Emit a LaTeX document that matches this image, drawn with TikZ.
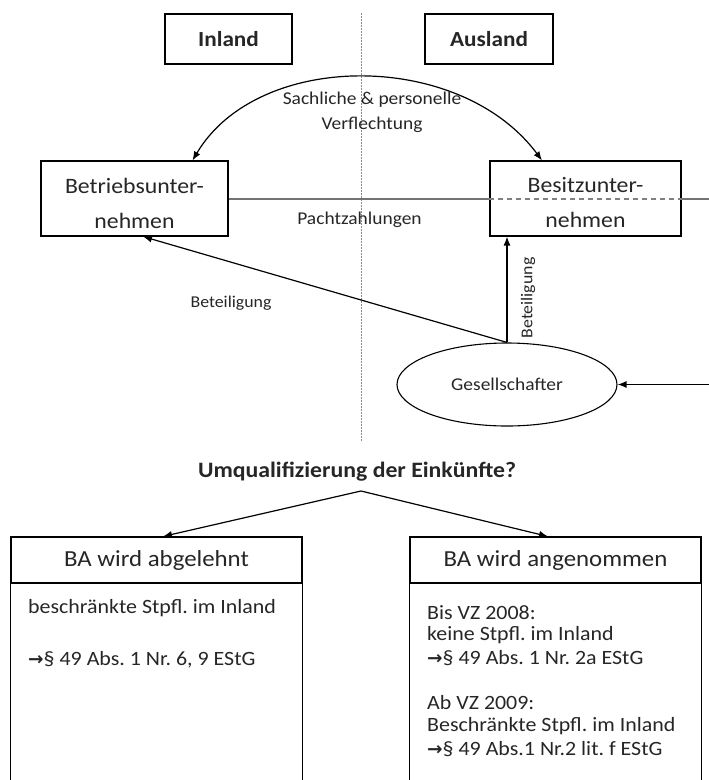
\documentclass[tikz,border=0pt]{standalone}
\usepackage{fontspec}
\setmainfont[FakeStretch=1.08]{Carlito}
\newfontfamily\symfont{DejaVu Sans}
\usetikzlibrary{arrows.meta,shapes.geometric}
\frenchspacing
\begin{document}
\frenchspacing
\begin{tikzpicture}[x=1pt,y=-1pt,
  txt/.style={text=black!85, inner sep=0pt},
  boxnode/.style={draw=black, line width=1.1pt, inner sep=0pt, text=black!85},
  boxline/.style={draw=black, line width=1.1pt},
  arr/.style={draw=black, line width=1.2pt, -{Latex[length=9pt,width=7pt]}},
  midl/.style={draw=black!55, line width=2pt},
  fbig/.style={font=\fontsize{22}{35}\selectfont},
  fbody/.style={font=\fontsize{20.3}{20.3}\selectfont},
  fbox/.style={font=\fontsize{23}{23}\selectfont},
  fsmall/.style={font=\fontsize{18}{25}\selectfont},
  ftiny/.style={font=\fontsize{16.5}{16.5}\selectfont},
  fhead/.style={font=\fontsize{21.5}{21.5}\selectfont\bfseries}]
\newcommand{\rarr}{{\symfont\bfseries\fontsize{18.5}{18.5}\selectfont →}}
\useasboundingbox (0,0) rectangle (709,780);
\clip (0,0) rectangle (709,780);

% divider
\coordinate (divtop) at (361,13);
\coordinate (divbot) at (361,442);
\draw[black!45, line width=0.8pt, dash pattern=on 1.5pt off 1.5pt] (divtop) -- (divbot);

% header boxes
\node[boxnode, fhead, minimum width=127pt, minimum height=50pt] (inland) at (228.5,39) {Inland};
\node[boxnode, fhead, minimum width=128pt, minimum height=50pt] (ausland) at (489,39) {Ausland};

% companies
\node[boxnode, minimum width=187pt, minimum height=75pt] (betrieb) at (134.5,198.5) {};
\node[txt, fbig, align=center] (betriebt) at (134.5,203) {Betriebsunter-\\nehmen};
\node[boxnode, minimum width=191pt, minimum height=75pt] (besitz) at (585.5,198.5) {};
\node[txt, fbig, align=center] (besitzt) at (585.5,203) {Besitzunter-\\nehmen};

% Pachtzahlungen line
\coordinate (rend) at (709,198.5);
\draw[midl] (betrieb.east) -- (besitz.west);
\draw[midl, draw=black!50, dash pattern=on 5pt off 4pt] (besitz.west) -- (besitz.east);
\draw[midl] (besitz.east) -- (rend);
\node[txt, fsmall] (pacht) at (359.5,220) {Pachtzahlungen};

% Verflechtung arc
\coordinate (arcL) at ([xshift=58pt]betrieb.north);
\coordinate (arcR) at ([xshift=-43.5pt]besitz.north);
\draw[arr, {Latex[length=9pt,width=7pt]}-{Latex[length=9pt,width=7pt]}] (arcL) .. controls (258,50) and (460,50) .. (arcR);
\node[txt, fsmall, align=center] (verfl) at (372,112) {Sachliche \& personelle\\Verflechtung};

% Gesellschafter
\node[draw=black, line width=1.1pt, ellipse, minimum width=220pt, minimum height=83pt, inner sep=0pt, text=black!85, fsmall] (gesell) at (507,384.5) {Gesellschafter};
\draw[arr] (gesell.north) -- ([xshift=8.5pt]betrieb.south);
\draw[arr] (gesell.north) -- (gesell.north |- besitz.south);
\coordinate (ext) at (709,0);
\draw[arr] (gesell.east -| ext) -- (gesell.east);
\node[txt, ftiny] (bet1) at (231,303) {Beteiligung};
\node[txt, ftiny, rotate=90] (bet2) at (528,298) {Beteiligung};

% question
\node[txt, font=\fontsize{22}{22}\selectfont\bfseries] (umq) at (357,472) {Umqualifizierung der Einkünfte?};
\coordinate (apex) at (361,491);

% result boxes
\node[boxnode, fbox, minimum width=291pt, minimum height=46pt] (abl) at (156.5,560) {BA wird abgelehnt};
\node[boxnode, fbox, minimum width=291pt, minimum height=46pt] (ann) at (555.5,560) {BA wird angenommen};
\draw[arr] (apex) -- ([xshift=6.5pt]abl.north);
\draw[arr] (apex) -- ([xshift=-7.5pt]ann.north);
\draw[boxline] (abl.south west) -- ++(0,220);
\draw[boxline] (abl.south east) -- ++(0,220);
\draw[boxline] (ann.south west) -- ++(0,220);
\draw[boxline] (ann.south east) -- ++(0,220);

% left body
\node[txt, fbody, anchor=west] (l1) at (28,608) {beschränkte Stpfl. im Inland};
\node[txt, fbody, anchor=west] (l2) at (28,660) {\rarr§ 49 Abs. 1 Nr. 6, 9 EStG};

% right body
\node[txt, fbody, anchor=west] (r1) at (427,613) {Bis VZ 2008:};
\node[txt, fbody, anchor=west] (r2) at (427,635.5) {keine Stpfl. im Inland};
\node[txt, fbody, anchor=west] (r3) at (427,658) {\rarr§ 49 Abs. 1 Nr. 2a EStG};
\node[txt, fbody, anchor=west] (r4) at (427,703) {Ab VZ 2009:};
\node[txt, fbody, anchor=west] (r5) at (427,726) {Beschränkte Stpfl. im Inland};
\node[txt, fbody, anchor=west] (r6) at (427,749) {\rarr§ 49 Abs.1 Nr.2 lit. f EStG};
\end{tikzpicture}
\end{document}
